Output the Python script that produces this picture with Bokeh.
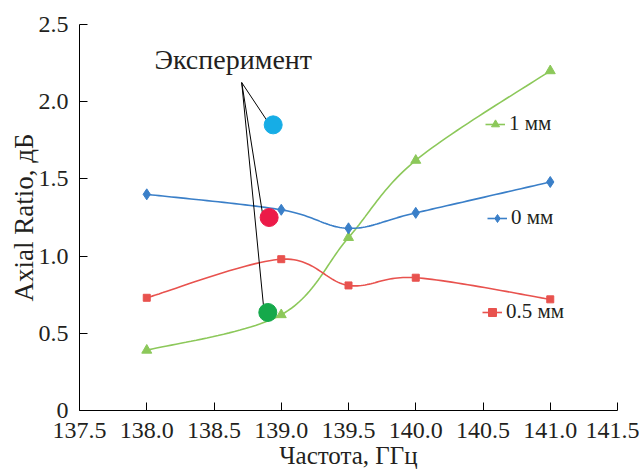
import numpy as np
from bokeh.plotting import figure
from bokeh.models import FixedTicker, Legend, LegendItem, Label
from bokeh.embed import file_html
from bokeh.resources import INLINE

freq = [138.0, 139.0, 139.5, 140.0, 141.0]
ar_0mm = [1.40, 1.30, 1.18, 1.28, 1.48]
ar_05mm = [0.73, 0.98, 0.81, 0.86, 0.72]
ar_1mm = [0.39, 0.62, 1.12, 1.62, 2.20]

exp_freq = [138.94, 138.91, 138.90]
exp_ar = [1.85, 1.25, 0.635]
exp_colors = ["#16ade6", "#ec1a48", "#15a94b"]

ann_text = "Эксперимент"
ann_pos = (138.643, 2.273)
lead_start = (138.706, 2.124)
lead_end_x = [138.915, 138.86, 138.87]
lead_end_y = [1.85, 1.28, 0.66]

x_ticks = [137.5, 138.0, 138.5, 139.0, 139.5, 140.0, 140.5, 141.0, 141.5]
x_tick_labels = ["137.5", "138.0", "138.5", "139.0", "139.5", "140.0", "140.5", "141.0", "141.5"]
y_ticks = [0, 0.5, 1.0, 1.5, 2.0, 2.5]
y_tick_labels = ["0", "0.5", "1.0", "1.5", "2.0", "2.5"]

x_title = "Частота, ГГц"
y_title = "Axial Ratio, дБ"

FONT = "Liberation Serif"
TXT = "#231f20"


def smooth(xs, ys, n=30):
    x = np.asarray(xs, float)
    y = np.asarray(ys, float)
    px = np.concatenate([[x[0]], x, [x[-1]]])
    py = np.concatenate([[y[0]], y, [y[-1]]])
    outx, outy = [], []
    t = np.linspace(0, 1, n)
    for i in range(1, len(px) - 2):
        p0 = np.array([px[i], py[i]])
        p3 = np.array([px[i + 1], py[i + 1]])
        c1 = p0 + (np.array([px[i + 1], py[i + 1]]) - np.array([px[i - 1], py[i - 1]])) / 6
        c2 = p3 - (np.array([px[i + 2], py[i + 2]]) - np.array([px[i], py[i]])) / 6
        b = ((1 - t) ** 3)[:, None] * p0 + (3 * (1 - t) ** 2 * t)[:, None] * c1 + \
            (3 * (1 - t) * t ** 2)[:, None] * c2 + (t ** 3)[:, None] * p3
        outx.extend(b[:, 0])
        outy.extend(b[:, 1])
    return outx, outy


p = figure(width=639, height=473, x_range=(137.5, 141.5), y_range=(0, 2.5),
           output_backend="svg", toolbar_location=None,
           min_border_left=79, min_border_right=22, min_border_top=24, min_border_bottom=63)
p.outline_line_color = None
p.grid.visible = False
p.background_fill_color = "white"
p.border_fill_color = "white"

for ax in (p.xaxis[0], p.yaxis[0]):
    ax.axis_line_color = "black"
    ax.major_tick_line_color = "black"
    ax.major_tick_in = 8
    ax.major_tick_out = 0
    ax.minor_tick_line_color = None
    ax.major_label_text_font = FONT
    ax.major_label_text_font_size = "24px"
    ax.major_label_text_color = TXT
    ax.axis_label_text_font = FONT
    ax.axis_label_text_font_style = "normal"
    ax.axis_label_text_color = TXT

p.xaxis.ticker = FixedTicker(ticks=x_ticks)
p.yaxis.ticker = FixedTicker(ticks=y_ticks)
p.xaxis.major_label_overrides = dict(zip(x_ticks, x_tick_labels))
p.yaxis.major_label_overrides = dict(zip(y_ticks, y_tick_labels))
p.xaxis.axis_label = x_title
p.yaxis.axis_label = y_title
p.xaxis.axis_label_text_font_size = "25px"
p.yaxis.axis_label_text_font_size = "27px"
p.xaxis.major_label_standoff = 12
p.xaxis.axis_label_standoff = 1
p.yaxis.major_label_standoff = 11
p.yaxis.axis_label_standoff = -3

series = [
    ("1 мм", ar_1mm, "#8cc85a", "triangle", 10),
    ("0 мм", ar_0mm, "#3a7fc8", "diamond", 11),
    ("0.5 мм", ar_05mm, "#e8524e", "square", 7),
]
legend_locs = {"1 мм": (406, 274), "0 мм": (408, 180), "0.5 мм": (403, 86)}

for name, vals, col, mk, sz in series:
    sx, sy = smooth(freq, vals)
    lr = p.line(sx, sy, line_color=col, line_width=1.6)
    sr = p.scatter(freq, vals, marker=mk, size=sz, fill_color=col, line_color=col)
    leg = Legend(items=[LegendItem(label=name, renderers=[lr, sr])],
                 location=legend_locs[name], border_line_alpha=0,
                 background_fill_alpha=0, padding=0, margin=0, spacing=0,
                 label_text_font=FONT, label_text_font_size="21px",
                 label_text_color=TXT, glyph_width=20, label_standoff=4)
    p.add_layout(leg, "center")

p.segment(x0=[lead_start[0]] * 3, y0=[lead_start[1]] * 3, x1=lead_end_x, y1=lead_end_y,
          line_color="black", line_width=1)
p.scatter(exp_freq, exp_ar, size=18, fill_color=exp_colors, line_color=exp_colors)

p.add_layout(Label(x=ann_pos[0], y=ann_pos[1], text=ann_text, text_font=FONT,
                   text_font_size="28px", text_color=TXT, text_align="center",
                   text_baseline="middle"))

open("out.html", "w").write(file_html(p, INLINE))
